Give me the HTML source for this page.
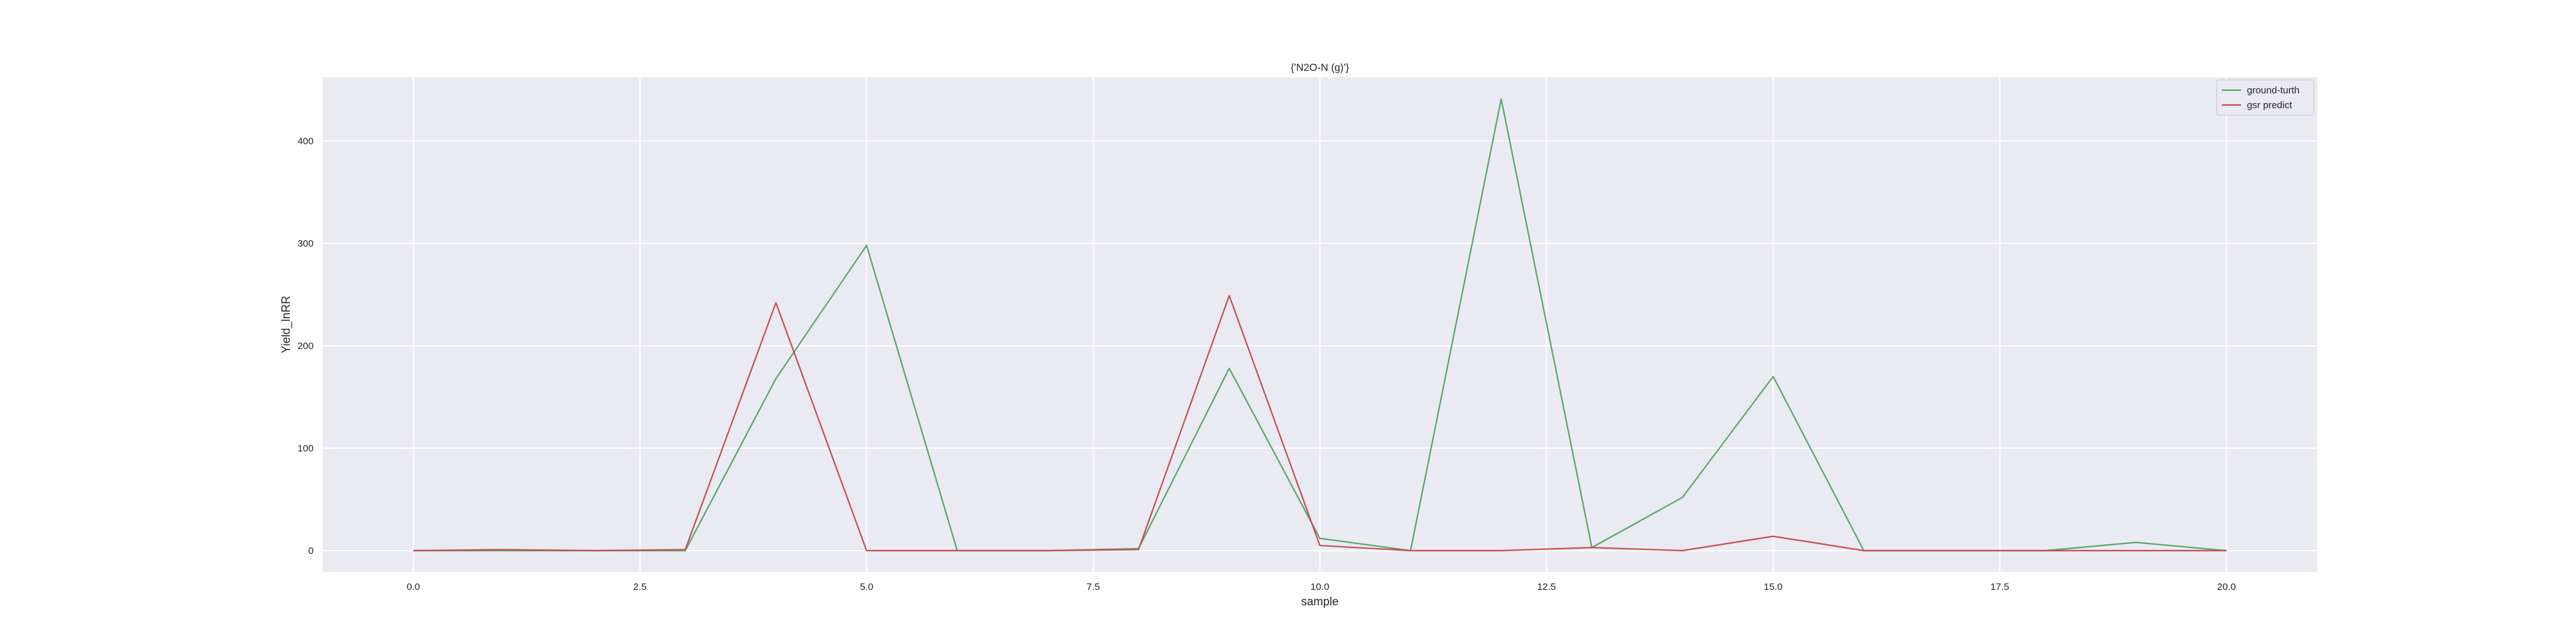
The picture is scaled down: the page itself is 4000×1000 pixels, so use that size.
<!DOCTYPE html>
<html><head><meta charset="utf-8"><style>
html,body{margin:0;padding:0;background:#fff;}
svg{display:block;font-family:"Liberation Sans",sans-serif;}
</style></head><body>
<svg id="chart" width="4000" height="1000"></svg>
<script>
const xTicks=[0,2.5,5,7.5,10,12.5,15,17.5,20];
const xTickLabels=["0.0","2.5","5.0","7.5","10.0","12.5","15.0","17.5","20.0"];
const yTicks=[0,100,200,300,400];
const yTickLabels=["0","100","200","300","400"];
const samples=[0,1,2,3,4,5,6,7,8,9,10,11,12,13,14,15,16,17,18,19,20];
const groundTruth=[0,0,0,0,168,298,0,0,2,178,12,0,441,3,52,170,0,0,0,8,0];
const gsrPredict=[0,1,0,1,242,0,0,0,1,249,5,0,0,3,0,14,0,0,0,0,0];

const NS="http://www.w3.org/2000/svg";
const svg=document.getElementById('chart');
const L=501,R=3598,T=120,B=888;
const xMin=-1.0,xMax=21.0,yMin=-20.75,yMax=462.2;
function xs(v){return L+(v-xMin)/(xMax-xMin)*(R-L);}
function ys(v){return B-(v-yMin)/(yMax-yMin)*(B-T);}
function mk(tag,attrs,parent){const e=document.createElementNS(NS,tag);for(const k in attrs)e.setAttribute(k,attrs[k]);(parent||svg).appendChild(e);return e;}

const bg=mk('rect',{x:L,y:T,width:R-L,height:B-T,fill:'#eaeaf2'});



xTicks.forEach((t,i)=>{
  const g=mk('line',{x1:xs(t),x2:xs(t),y1:T,y2:B,stroke:'#fff','stroke-width':2});
  
  
  const tx=mk('text',{x:xs(t),y:B+28,'text-anchor':'middle','font-size':15,fill:'#262626'});
  tx.textContent=xTickLabels[i];
  
  
});
yTicks.forEach((t,i)=>{
  const g=mk('line',{x1:L,x2:R,y1:ys(t),y2:ys(t),stroke:'#fff','stroke-width':2});
  
  
  const tx=mk('text',{x:L-14,y:ys(t)+5,'text-anchor':'end','font-size':15,fill:'#262626'});
  tx.textContent=yTickLabels[i];
  
  
});

function series(vals,color,name){
  const p=mk('polyline',{points:samples.map((s,i)=>xs(s)+','+ys(vals[i])).join(' '),fill:'none',stroke:color,'stroke-width':2.2,'stroke-linejoin':'round'});
  
  
}
series(groundTruth,'#55a868','ground-truth-line');
series(gsrPredict,'#c44e52','gsr-predict-line');

const title=mk('text',{x:(L+R)/2,y:110,'text-anchor':'middle','font-size':16,fill:'#262626'});
title.textContent="{'N2O-N (g)'}";



const xl=mk('text',{x:(L+R)/2,y:940,'text-anchor':'middle','font-size':18,fill:'#262626'});
xl.textContent='sample';



const yl=mk('text',{x:0,y:0,'text-anchor':'middle','font-size':18,fill:'#262626',transform:'translate(450,'+((T+B)/2)+') rotate(-90)'});
yl.textContent='Yield_lnRR';



const lg=mk('g',{});


mk('rect',{x:3442,y:124,width:151,height:55,rx:4,fill:'#eaeaf2',stroke:'#cccccc','stroke-width':1.2},lg);
const items=[['ground-turth','#55a868',140],['gsr predict','#c44e52',163]];
items.forEach(it=>{
  const ln=mk('line',{x1:3450,x2:3480,y1:it[2],y2:it[2],stroke:it[1],'stroke-width':2.2},lg);
  
  
  const t=mk('text',{x:3489,y:it[2]+5,'font-size':15,fill:'#262626'},lg);
  t.textContent=it[0];
  
  
});
</script>
</body></html>
